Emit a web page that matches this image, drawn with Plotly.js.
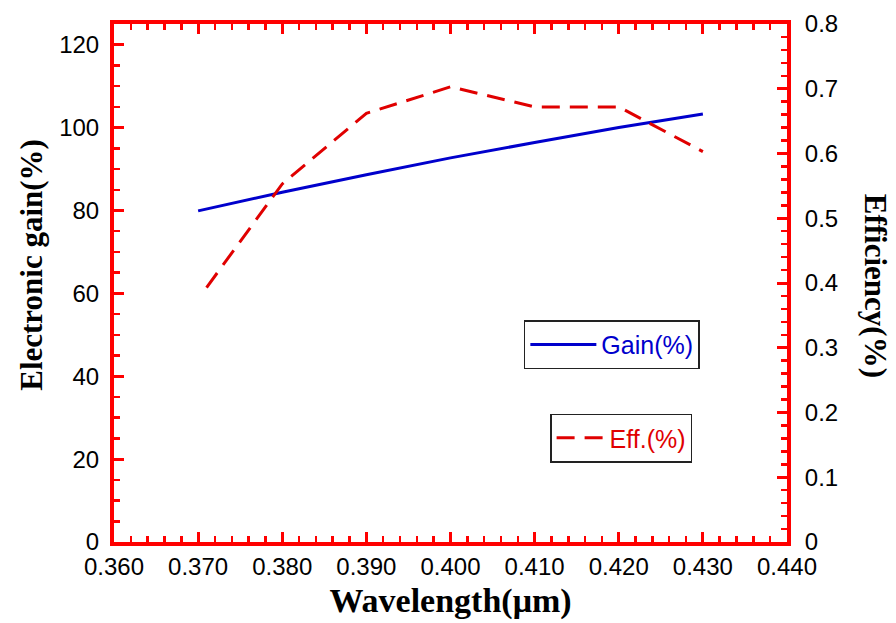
<!DOCTYPE html>
<html>
<head>
<meta charset="utf-8">
<script src="https://cdn.plot.ly/plotly-3.0.1.min.js"></script>
<style>html,body{margin:0;padding:0;background:#fff;}#chart{width:896px;height:623px;}</style>
</head>
<body>
<div id="chart"></div>
<script>
// Data
const gainWavelength = [0.370, 0.380, 0.390, 0.400, 0.410, 0.420, 0.430];
const gainValues = [79.9, 84.4, 88.6, 92.7, 96.4, 100.0, 103.3];
const effWavelength = [0.371, 0.380, 0.390, 0.400, 0.410, 0.420, 0.430];
const effValues = [0.393, 0.553, 0.662, 0.703, 0.672, 0.672, 0.603];
const xTickVals = [0.36, 0.37, 0.38, 0.39, 0.40, 0.41, 0.42, 0.43, 0.44];
const xTickText = ["0.360", "0.370", "0.380", "0.390", "0.400", "0.410", "0.420", "0.430", "0.440"];
const gainName = "Gain(%)";
const effName = "Eff.(%)";

const RED = "#ff0000";
const tickFont = {family: "Liberation Sans, Arial, sans-serif", size: 24, color: "#000"};
const titleFont = {family: "Liberation Serif, Times New Roman, serif", size: 33, color: "#000", weight: "bold"};

const traces = [
  {x: gainWavelength, y: gainValues, name: gainName, type: "scatter", mode: "lines",
   line: {color: "#0000cc", width: 3}, yaxis: "y", legend: "legend"},
  {x: effWavelength, y: effValues, name: effName, type: "scatter", mode: "lines",
   line: {color: "#e00000", width: 3, dash: "18px,10px"}, yaxis: "y2", legend: "legend2"}
];

const axisCommon = {
  showline: true, linecolor: RED, linewidth: 4,
  ticks: "inside", ticklen: 10, tickwidth: 3, tickcolor: RED,
  showgrid: false, zeroline: false, tickfont: tickFont
};

const legendFont = {family: "Liberation Sans, Arial, sans-serif", size: 25};

const layout = {
  width: 896, height: 623,
  margin: {l: 114, r: 109, t: 24, b: 81},
  paper_bgcolor: "#fff", plot_bgcolor: "#fff",
  showlegend: true,
  xaxis: Object.assign({}, axisCommon, {
    range: [0.36, 0.44], tickvals: xTickVals, ticktext: xTickText, mirror: "ticks",
    minor: {dtick: 0.002, ticks: "inside", ticklen: 6, tickwidth: 2.5, tickcolor: RED},
    title: {text: "Wavelength(μm)", font: Object.assign({}, titleFont, {size: 34}), standoff: 10}
  }),
  yaxis: Object.assign({}, axisCommon, {
    range: [0, 125], dtick: 20, tick0: 0, ticklabelstandoff: 6,
    minor: {dtick: 5, ticks: "inside", ticklen: 6, tickwidth: 2.5, tickcolor: RED}
  }),
  yaxis2: Object.assign({}, axisCommon, {
    overlaying: "y", side: "right", range: [0, 0.8], dtick: 0.1, tick0: 0, ticklabelstandoff: 9,
    minor: {dtick: 0.02, ticks: "inside", ticklen: 6, tickwidth: 2.5, tickcolor: RED}
  }),
  legend: {x: 0.609, y: 0.428, xanchor: "left", yanchor: "top", itemwidth: 66,
    bgcolor: "#fff", bordercolor: "#222", borderwidth: 1.5,
    font: Object.assign({color: "#0000cc"}, legendFont)},
  legend2: {x: 0.648, y: 0.248, xanchor: "left", yanchor: "top", itemwidth: 48,
    bgcolor: "#fff", bordercolor: "#222", borderwidth: 1.5,
    font: Object.assign({color: "#e00000"}, legendFont)},
  annotations: [
    {text: "Electronic gain(%)", xref: "paper", yref: "paper", x: -0.122, y: 0.535,
     xanchor: "center", yanchor: "middle", textangle: -90, showarrow: false,
     font: Object.assign({}, titleFont, {size: 31})},
    {text: "Efficiency(%)", xref: "paper", yref: "paper", x: 1.132, y: 0.495,
     xanchor: "center", yanchor: "middle", textangle: 90, showarrow: false,
     font: Object.assign({}, titleFont, {size: 31})}
  ]
};

Plotly.newPlot("chart", traces, layout, {displayModeBar: false, staticPlot: true});
</script>
</body>
</html>
